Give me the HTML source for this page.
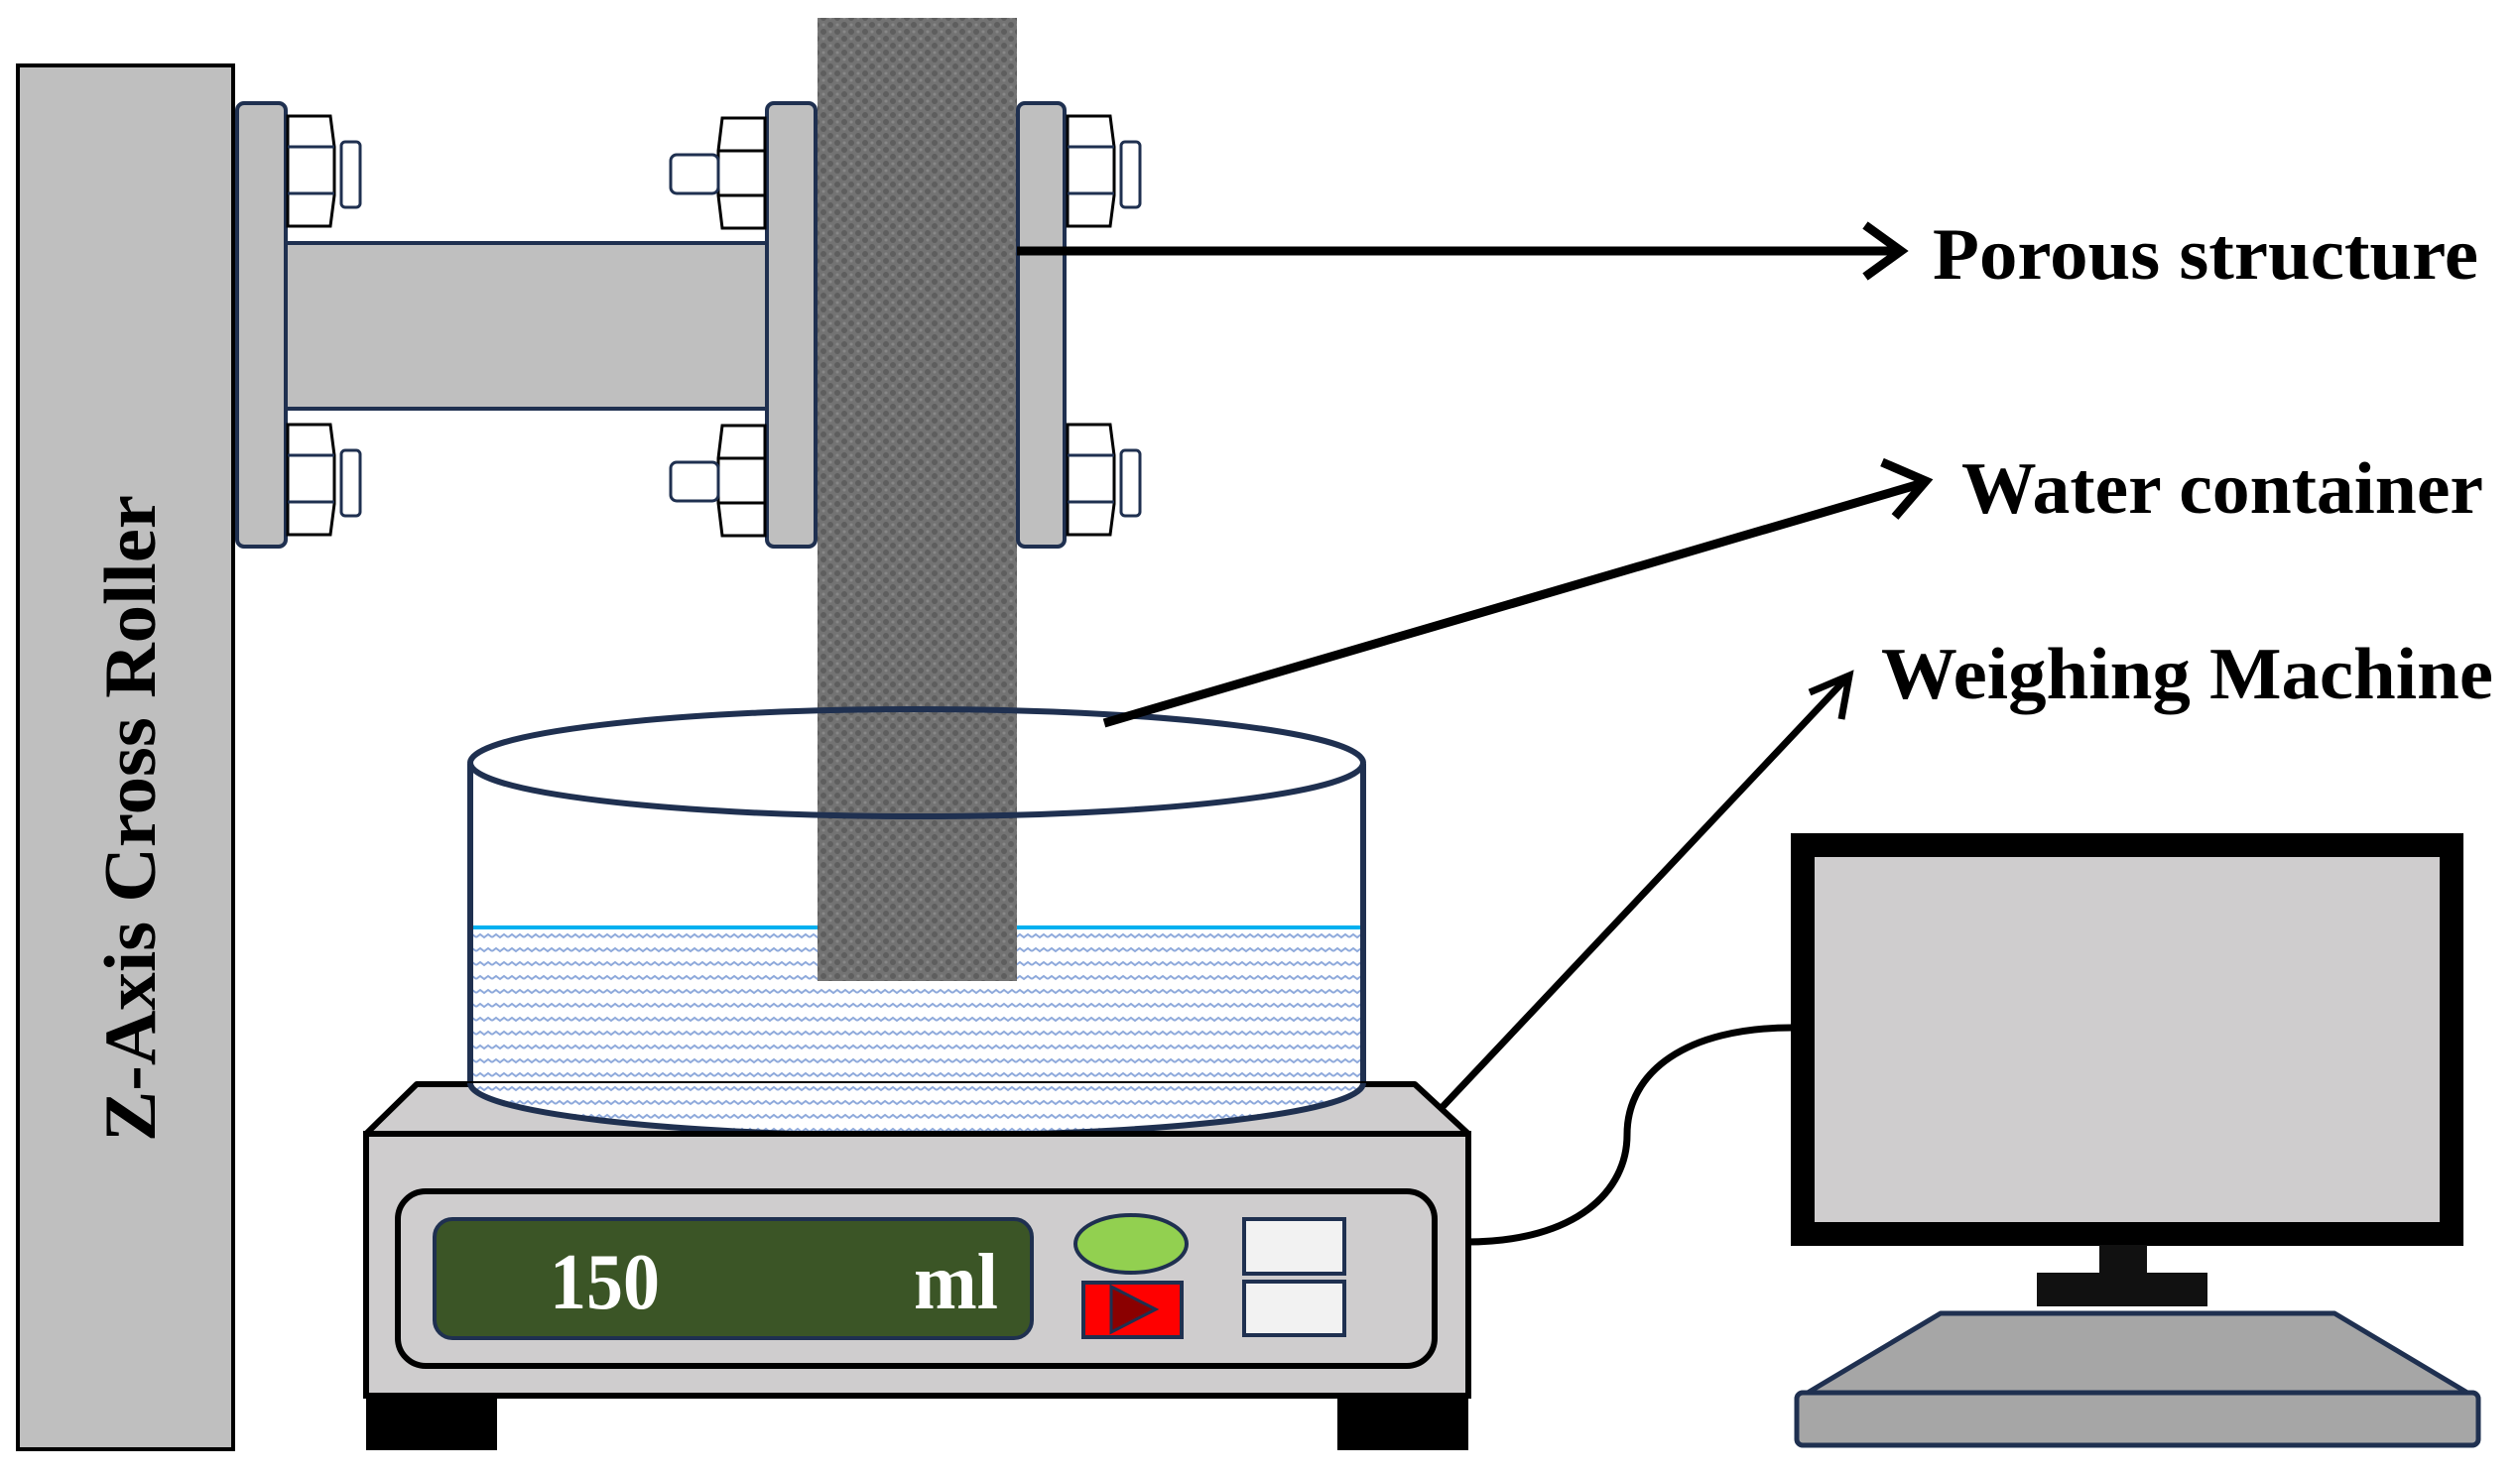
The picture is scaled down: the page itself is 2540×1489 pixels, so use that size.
<!DOCTYPE html>
<html><head><meta charset="utf-8"><style>html,body{margin:0;padding:0;background:#fff}svg{display:block}</style></head>
<body>
<svg width="2540" height="1489" viewBox="0 0 2540 1489" xmlns="http://www.w3.org/2000/svg" font-family="'Liberation Serif', serif" font-weight="bold">
<defs>
<pattern id="por" width="14" height="14" patternUnits="userSpaceOnUse">
<rect width="14" height="14" fill="#737373"/>
<circle cx="4" cy="4" r="3" fill="#5e5e5e"/><circle cx="11" cy="11" r="3" fill="#5e5e5e"/>
<circle cx="11" cy="4" r="1.5" fill="#888"/><circle cx="4" cy="11" r="1.5" fill="#888"/>
</pattern>
<pattern id="wat" width="16" height="14" patternUnits="userSpaceOnUse">
<rect width="16" height="14" fill="#fff"/>
<path d="M0 7 L4 4 L8 7 L12 4 L16 7" stroke="#8ea9db" stroke-width="2" fill="none"/>
</pattern>
</defs>
<!-- Z axis block -->
<rect x="18" y="66" width="217" height="1395" fill="#bfbfbf" stroke="#000" stroke-width="4"/>
<text transform="translate(156,1151) rotate(-90)" font-size="74" textLength="652" lengthAdjust="spacingAndGlyphs">Z-Axis Cross Roller</text>
<!-- bar -->
<rect x="288" y="245" width="485" height="167" fill="#bfbfbf" stroke="#1f3050" stroke-width="4"/>
<!-- porous strip -->
<rect x="824" y="18" width="201" height="971" fill="url(#por)"/>
<!-- flanges -->
<rect x="239" y="104" width="49" height="447" rx="7" fill="#bfbfbf" stroke="#1f3050" stroke-width="4"/>
<rect x="773" y="104" width="49" height="447" rx="7" fill="#bfbfbf" stroke="#1f3050" stroke-width="4"/>
<rect x="1026" y="104" width="47" height="447" rx="7" fill="#bfbfbf" stroke="#1f3050" stroke-width="4"/>
<!-- nuts: right-facing -->
<g id="nr" stroke-width="3">
<path d="M290 117 L333 117 L337 148 L337 197 L333 228 L290 228 Z" fill="#fff" stroke="#000"/>
<line x1="290" y1="148" x2="337" y2="148" stroke="#1f3050"/><line x1="290" y1="195" x2="337" y2="195" stroke="#1f3050"/>
<rect x="344" y="143" width="19" height="66" rx="4" fill="#fff" stroke="#1f3050"/>
</g>
<use href="#nr" y="311"/>
<use href="#nr" x="786"/>
<use href="#nr" x="786" y="311"/>
<!-- nuts: left-facing (middle) -->
<g id="nl" stroke-width="3">
<path d="M771 119 L728 119 L724 152 L724 197 L728 230 L771 230 Z" fill="#fff" stroke="#000"/>
<line x1="724" y1="152" x2="771" y2="152" stroke="#000"/><line x1="724" y1="197" x2="771" y2="197" stroke="#000"/>
<rect x="676" y="156" width="48" height="39" rx="6" fill="#fff" stroke="#1f3050"/>
</g>
<use href="#nl" y="310"/>
<!-- container -->
<path d="M474 770 L474 1092 A450 53 0 0 0 1374 1092 L1374 770 Z" fill="#fff"/>
<path d="M477 935 L1371 935 L1371 1092 A447 50 0 0 1 477 1092 Z" fill="url(#wat)"/>
<line x1="477" y1="935" x2="1371" y2="935" stroke="#00b0f0" stroke-width="4"/>
<rect x="824" y="720" width="201" height="269" fill="url(#por)"/>
<path d="M474 770 L474 1092 A450 53 0 0 0 1374 1092 L1374 770" fill="none" stroke="#1f3050" stroke-width="6"/>
<ellipse cx="924" cy="769" rx="450" ry="54" fill="none" stroke="#1f3050" stroke-width="6"/>
<!-- arrows -->
<g stroke="#000" fill="none" stroke-linecap="butt">
<line x1="1025" y1="253" x2="1912" y2="253" stroke-width="9"/>
<path d="M1880 227 L1916 253 L1880 279" stroke-width="9"/>
<line x1="1113" y1="729" x2="1935" y2="488" stroke-width="9"/>
<path d="M1897 466 L1941 485 L1910 521" stroke-width="9"/>
<line x1="1451" y1="1119" x2="1860" y2="685" stroke-width="7"/>
<path d="M1824 698 L1864 681 L1856 725" stroke-width="7"/>
</g>
<text x="1948" y="281" font-size="74" textLength="550" lengthAdjust="spacingAndGlyphs">Porous structure</text>
<text x="1977" y="517" font-size="74" textLength="526" lengthAdjust="spacingAndGlyphs">Water container</text>
<text x="1896" y="704" font-size="74" textLength="617" lengthAdjust="spacingAndGlyphs">Weighing Machine</text>
<!-- cable -->
<path d="M1478 1252 C1590 1252 1640 1200 1640 1144 C1640 1080 1700 1036 1806 1036" fill="none" stroke="#000" stroke-width="7"/>
<!-- scale -->
<rect x="369" y="1405" width="132" height="57" fill="#000"/>
<rect x="1348" y="1405" width="132" height="57" fill="#000"/>
<path d="M420 1093 L1426 1093 L1480 1143 L369 1143 Z" fill="#cfcdce" stroke="#000" stroke-width="6" stroke-linejoin="round"/>
<path d="M474 1092 A450 53 0 0 0 1374 1092" fill="url(#wat)" stroke="#1f3050" stroke-width="6"/>
<rect x="369" y="1143" width="1111" height="264" fill="#cfcdce" stroke="#000" stroke-width="6"/>
<rect x="401" y="1201" width="1045" height="176" rx="28" fill="#cfcdce" stroke="#000" stroke-width="6"/>
<rect x="438" y="1229" width="602" height="120" rx="18" fill="#3b5526" stroke="#1f3050" stroke-width="4"/>
<text x="554" y="1319" font-size="80" fill="#fff" textLength="111" lengthAdjust="spacingAndGlyphs">150</text>
<text x="921" y="1319" font-size="80" fill="#fff" textLength="85" lengthAdjust="spacingAndGlyphs">ml</text>
<ellipse cx="1140" cy="1254" rx="56" ry="29" fill="#92d050" stroke="#1f3050" stroke-width="4"/>
<rect x="1092" y="1293" width="99" height="55" fill="#ff0000" stroke="#1f3050" stroke-width="4"/>
<path d="M1120 1297 L1165 1320 L1120 1343 Z" fill="#8b0000" stroke="#1f3050" stroke-width="3"/>
<rect x="1254" y="1229" width="101" height="55" fill="#f2f2f2" stroke="#1f3050" stroke-width="4"/>
<rect x="1254" y="1292" width="101" height="54" fill="#f2f2f2" stroke="#1f3050" stroke-width="4"/>
<!-- monitor -->
<rect x="1817" y="852" width="654" height="392" fill="#cfcdce" stroke="#000" stroke-width="24"/>
<rect x="2116" y="1255" width="48" height="30" fill="#111"/>
<rect x="2053" y="1283" width="172" height="34" fill="#111"/>
<path d="M1956 1324 L2353 1324 L2487 1404 L1822 1404 Z" fill="#a6a6a6" stroke="#1f3050" stroke-width="5" stroke-linejoin="round"/>
<rect x="1811" y="1404" width="687" height="53" rx="6" fill="#a6a6a6" stroke="#1f3050" stroke-width="5"/>
</svg>
</body></html>
